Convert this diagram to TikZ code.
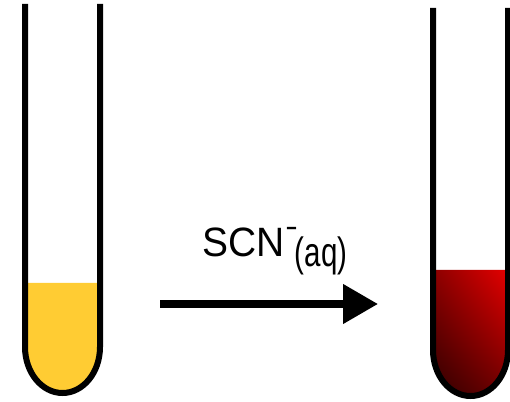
\documentclass[tikz,border=0pt]{standalone}
\usepackage{fontspec}
\setmainfont{Liberation Sans}
\usepackage{graphicx}
\usetikzlibrary{arrows.meta, shadings}

\definecolor{ironyellow}{RGB}{255,204,51}
\definecolor{bloodlight}{RGB}{228,0,0}
\definecolor{bloodmid}{RGB}{140,0,0}
\definecolor{blooddark}{RGB}{45,0,0}

\begin{document}
\begin{tikzpicture}[x=1pt, y=1pt,
    tube/.style={line width=6pt},
    reaction/.style={line width=7.5pt, -{Triangle[length=35pt, width=38pt]}}]
\useasboundingbox (0,0) rectangle (510,401);
% iron(III) solution before
\fill[ironyellow] (25,118) -- (25,54) arc[start angle=180, end angle=360, x radius=37.5, y radius=46] -- (100,118) -- cycle;
\draw[tube] (25,397) -- (25,54) arc[start angle=180, end angle=360, x radius=37.5, y radius=46] -- (100,397);
% blood red complex after
\shade[upper right=bloodlight, upper left=bloodmid, lower left=blooddark, lower right=bloodmid!80!black]
  (433,131) -- (433,51) arc[start angle=180, end angle=360, x radius=37.5, y radius=46] -- (508,131) -- cycle;
\draw[tube] (433,393) -- (433,51) arc[start angle=180, end angle=360, x radius=37.5, y radius=46] -- (508,393);
% arrow and reagent
\coordinate (start) at (160,97);
\coordinate (end) at (378,97);
\draw[reaction] (start) -- (end);
\node[anchor=base west, inner sep=0] (reagent) at (202,144)
  {\fontsize{41}{42}\selectfont\scalebox{0.95}[1]{SCN}\kern1pt\raisebox{20pt}{\fontsize{30}{30}\selectfont\scalebox{1.25}[1]{-}}\kern-3pt\raisebox{-10pt}{\scalebox{0.72}[1]{(aq)}}};
\end{tikzpicture}
\end{document}
